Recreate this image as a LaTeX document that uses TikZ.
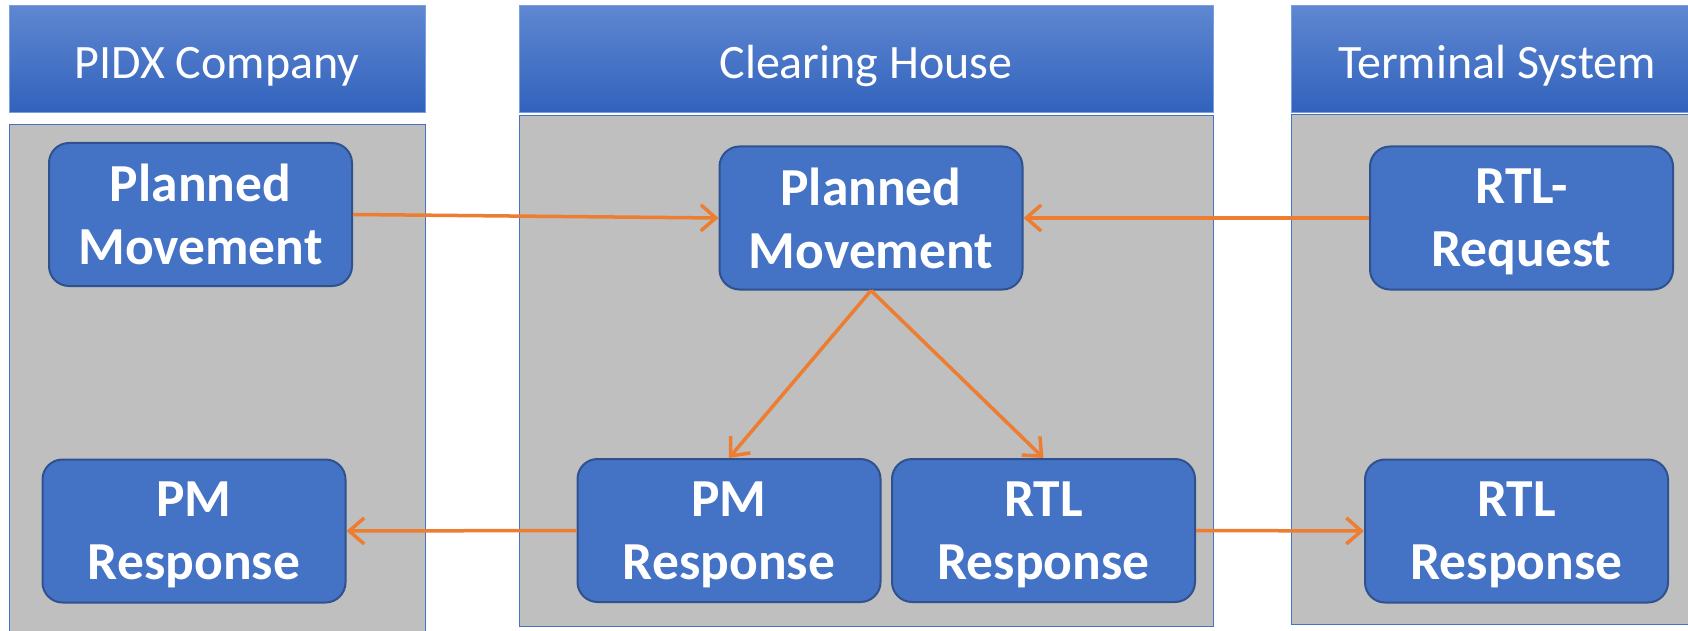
\documentclass[tikz,border=0pt]{standalone}
\usepackage{fontspec}
\setmainfont{Carlito}
\usetikzlibrary{arrows.meta}
\definecolor{boxblue}{HTML}{4472C4}
\definecolor{boxedge}{HTML}{2F528F}
\definecolor{arrowor}{HTML}{ED7D31}
\definecolor{panelgrey}{HTML}{BFBFBF}
\definecolor{hdrtop}{HTML}{5F87D1}
\definecolor{hdrbot}{HTML}{3162BC}
\definecolor{hdredge}{HTML}{7A9FDE}
\begin{document}
\begin{tikzpicture}[x=1pt,y=-1pt,
  msgbox/.style={draw=boxedge, line width=2pt, fill=boxblue, rounded corners=20pt,
    minimum width=303pt, minimum height=143pt, text=white,
    font=\fontsize{53.5}{63}\selectfont\bfseries, align=center, inner sep=0pt},
  flow/.style={draw=arrowor, line width=3.5pt, -{Straight Barb[length=15pt,width=26pt]}},
  panel/.style={fill=panelgrey, draw=boxblue, line width=1pt},
  header/.style={top color=hdrtop, bottom color=hdrbot, draw=hdredge, line width=1pt,
    minimum height=107pt, inner sep=0pt, text=white,
    font=\fontsize{48}{58}\selectfont, text height=38pt, text depth=0pt}]
\useasboundingbox (0,0) rectangle (1688,631);
\clip (0,0) rectangle (1688,631);
\fill[white] (0,0) rectangle (1688,631);

% headers
\node[header, minimum width=416pt] (hA) at (217,59.5) {PIDX Company};
\node[header, minimum width=694pt] (hB) at (866,59.5) {Clearing House};
\node[header, minimum width=412pt] (hC) at (1497,59.5) {Terminal System};

% panels
\draw[panel] (9,125) rectangle (425,660);
\draw[panel] (519,116) rectangle (1213,626);
\draw[panel] (1291,115) rectangle (1710,624);

% message boxes
\node[msgbox] (A) at (200.5,214.5) {Planned\\\smash{Movement}};
\node[msgbox] (B) at (194,531) {PM\\\smash{Response}};
\node[msgbox] (C) at (871,218) {Planned\\\smash{Movement}};
\node[msgbox] (D) at (729,530.5) {PM\\\smash{Response}};
\node[msgbox] (E) at (1043.5,530.5) {RTL\\\smash{Response}};
\node[msgbox] (F) at (1521.5,218) {RTL-\\\smash{Request}};
\node[msgbox] (G) at (1516.5,531) {RTL\\\smash{Response}};

% connectors
\draw[flow] (A.east) -- (C.west);
\draw[flow] (F.west) -- (C.east);
\draw[flow] (C.south) -- (D.north);
\draw[flow] (C.south) -- (E.north);
\draw[flow] (D.west) -- (B.east);
\draw[flow] (E.east) -- (G.west);
\end{tikzpicture}
\end{document}
